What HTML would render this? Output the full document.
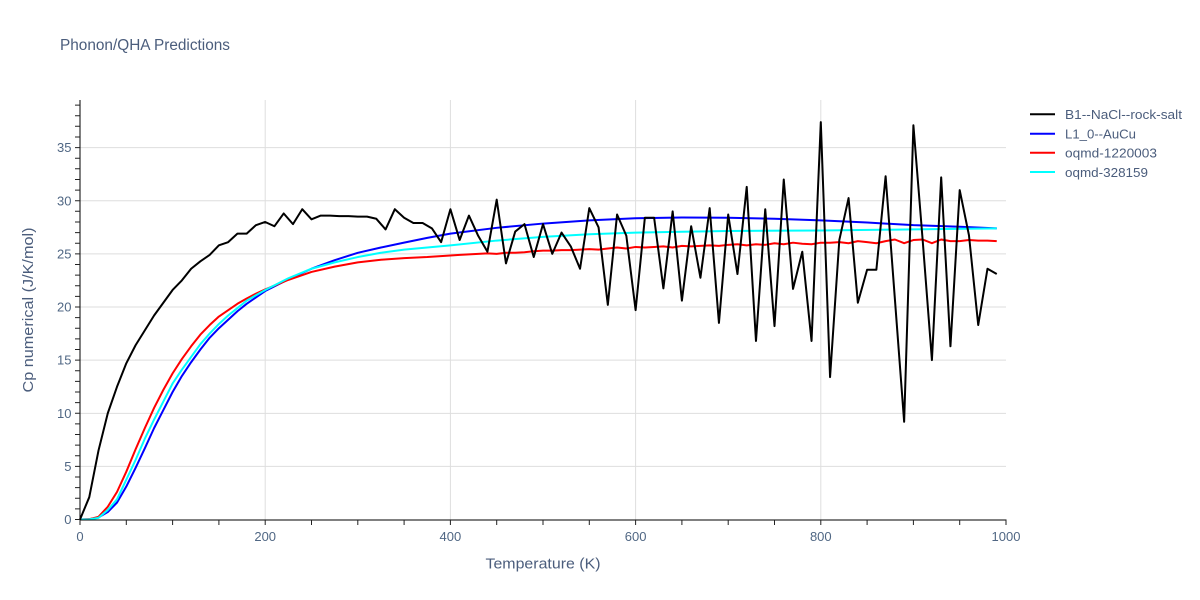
<!DOCTYPE html>
<html><head><meta charset="utf-8"><style>
html,body{margin:0;padding:0;background:#fff;}
svg{display:block;font-family:"Liberation Sans",sans-serif;}
</style></head><body>
<svg width="1200" height="600" viewBox="0 0 1200 600" xmlns="http://www.w3.org/2000/svg">
<rect width="1200" height="600" fill="#fff"/>
<text x="60" y="50" font-size="15.5" fill="#4b5d7c" textLength="170" lengthAdjust="spacingAndGlyphs">Phonon/QHA Predictions</text>
<!-- grid -->
<g stroke="#dedede" stroke-width="1">
<line x1="80" x2="1006" y1="466.4" y2="466.4"/>
<line x1="80" x2="1006" y1="413.4" y2="413.4"/>
<line x1="80" x2="1006" y1="360.1" y2="360.1"/>
<line x1="80" x2="1006" y1="307" y2="307"/>
<line x1="80" x2="1006" y1="253.9" y2="253.9"/>
<line x1="80" x2="1006" y1="200.7" y2="200.7"/>
<line x1="80" x2="1006" y1="147.6" y2="147.6"/>
<line x1="265.2" x2="265.2" y1="100" y2="520"/>
<line x1="450.4" x2="450.4" y1="100" y2="520"/>
<line x1="635.6" x2="635.6" y1="100" y2="520"/>
<line x1="820.8" x2="820.8" y1="100" y2="520"/>
</g>
<!-- series -->
<g transform="translate(80,519.5) scale(0.926,-10.626)" fill="none" stroke-linejoin="round">
<polyline vector-effect="non-scaling-stroke" stroke="#0000ff" stroke-width="2" points="0,0 10,0.02 20,0.2 30,0.7 40,1.6 50,3.1 60,4.85 70,6.7 80,8.6 90,10.3 100,12.0 110,13.5 120,14.8 130,16.0 140,17.1 150,18.0 160,18.8 170,19.6 180,20.3 190,20.9 200,21.5 225,22.6 250,23.6 275,24.4 300,25.1 325,25.6 350,26.06 375,26.5 400,26.9 450,27.45 500,27.85 550,28.15 600,28.35 650,28.42 700,28.4 750,28.3 800,28.15 850,27.95 900,27.7 950,27.55 990,27.4"/>
<polyline vector-effect="non-scaling-stroke" stroke="#ff0000" stroke-width="2" points="0,0 10,0.03 20,0.25 30,1.2 40,2.6 50,4.5 60,6.6 70,8.6 80,10.5 90,12.2 100,13.75 110,15.1 120,16.3 130,17.4 140,18.3 150,19.1 160,19.7 170,20.3 180,20.8 190,21.25 200,21.65 225,22.55 250,23.3 275,23.8 300,24.2 325,24.45 350,24.6 375,24.7 400,24.85 410,24.9 420,24.95 430,25.0 440,25.05 450,25.0 460,25.1 470,25.1 480,25.15 490,25.25 500,25.3 510,25.3 520,25.35 530,25.35 540,25.4 550,25.45 560,25.4 570,25.5 580,25.6 590,25.5 600,25.65 610,25.6 620,25.65 630,25.7 640,25.6 650,25.75 660,25.7 670,25.75 680,25.8 690,25.75 700,25.85 710,25.9 720,25.8 730,25.9 740,25.85 750,26.0 760,25.9 770,26.05 780,25.95 790,25.9 800,26.05 810,26.05 820,26.1 830,26.0 840,26.2 850,26.1 860,26.0 870,26.2 880,26.35 890,26.0 900,26.3 910,26.35 920,26.0 930,26.35 940,26.2 950,26.2 960,26.3 970,26.25 980,26.25 990,26.2"/>
<polyline vector-effect="non-scaling-stroke" stroke="#00ffff" stroke-width="2" points="0,0 10,0.01 20,0.15 30,0.9 40,1.9 50,3.75 60,5.6 70,7.6 80,9.4 90,11.1 100,12.8 110,14.1 120,15.3 130,16.5 140,17.5 150,18.4 160,19.2 170,19.9 180,20.6 190,21.1 200,21.6 225,22.7 250,23.6 275,24.2 300,24.7 325,25.1 350,25.4 375,25.6 400,25.8 450,26.25 500,26.6 550,26.85 600,27.0 650,27.08 700,27.15 800,27.2 900,27.3 990,27.4"/>
<polyline vector-effect="non-scaling-stroke" stroke="#000000" stroke-width="2" points="0,0 10,2.1 20,6.5 30,10.0 40,12.5 50,14.7 60,16.4 70,17.8 80,19.2 90,20.4 100,21.6 110,22.5 120,23.6 130,24.3 140,24.9 150,25.8 160,26.1 170,26.9 180,26.9 190,27.7 200,28.0 210,27.6 220,28.8 230,27.8 240,29.2 250,28.25 260,28.6 270,28.6 280,28.55 290,28.55 300,28.5 310,28.5 320,28.3 330,27.3 340,29.2 350,28.4 360,27.9 370,27.9 380,27.4 390,26.1 400,29.2 410,26.3 420,28.6 430,26.7 440,25.2 450,30.1 460,24.1 470,27.1 480,27.8 490,24.7 500,27.8 510,25.0 520,27.0 530,25.7 540,23.6 550,29.3 560,27.5 570,20.2 580,28.7 590,26.7 600,19.7 610,28.4 620,28.4 630,21.75 640,29.0 650,20.6 660,27.6 670,22.75 680,29.3 690,18.5 700,28.7 710,23.1 720,31.3 730,16.8 740,29.2 750,18.2 760,32.0 770,21.7 780,25.2 790,16.8 800,37.4 810,13.4 820,26.3 830,30.25 840,20.4 850,23.5 860,23.5 870,32.3 880,20.75 890,9.2 900,37.1 910,26.3 920,15.0 930,32.2 940,16.3 950,31.0 960,26.75 970,18.3 980,23.6 990,23.1"/>
</g>
<!-- axes -->
<g stroke="#000" stroke-width="1">
<line x1="80" x2="80" y1="100" y2="520"/>
<line x1="79.5" x2="1006.5" y1="520" y2="520"/>
</g>
<g stroke="#222" stroke-width="1">
<path d="M75,519.5h5M75,508.9h5M75,498.3h5M75,487.6h5M75,477h5M75,466.4h5M75,455.7h5M75,445.1h5M75,434.5h5M75,423.9h5M75,413.2h5M75,402.6h5M75,392h5M75,381.4h5M75,370.7h5M75,360.1h5M75,349.5h5M75,338.9h5M75,328.2h5M75,317.6h5M75,307h5M75,296.4h5M75,285.7h5M75,275.1h5M75,264.5h5M75,253.9h5M75,243.2h5M75,232.6h5M75,222h5M75,211.3h5M75,200.7h5M75,190.1h5M75,179.5h5M75,168.8h5M75,158.2h5M75,147.6h5M75,137h5M75,126.3h5M75,115.7h5M75,105.1h5"/>
<path d="M80,520v5M126.3,520v5M172.6,520v5M218.9,520v5M265.2,520v5M311.5,520v5M357.8,520v5M404.1,520v5M450.4,520v5M496.7,520v5M543,520v5M589.3,520v5M635.6,520v5M681.9,520v5M728.2,520v5M774.5,520v5M820.8,520v5M867.1,520v5M913.4,520v5M959.7,520v5M1006,520v5"/>
</g>
<!-- tick labels -->
<g font-size="13" fill="#506784" text-anchor="end">
<text x="71.5" y="524">0</text>
<text x="71.5" y="471">5</text>
<text x="71.5" y="418">10</text>
<text x="71.5" y="364.5">15</text>
<text x="71.5" y="311.5">20</text>
<text x="71.5" y="258.5">25</text>
<text x="71.5" y="205.5">30</text>
<text x="71.5" y="152">35</text>
</g>
<g font-size="13" fill="#506784" text-anchor="middle">
<text x="80" y="541">0</text>
<text x="265.2" y="541">200</text>
<text x="450.4" y="541">400</text>
<text x="635.6" y="541">600</text>
<text x="820.8" y="541">800</text>
<text x="1006" y="541">1000</text>
</g>
<text x="485.5" y="568.5" font-size="15" fill="#4b5d7c" textLength="115" lengthAdjust="spacingAndGlyphs">Temperature (K)</text>
<text transform="translate(33,392.5) rotate(-90)" font-size="15" fill="#4b5d7c" textLength="165" lengthAdjust="spacingAndGlyphs">Cp numerical (J/K/mol)</text>
<!-- legend -->
<g stroke-width="2">
<line x1="1030" x2="1055" y1="114.3" y2="114.3" stroke="#000"/>
<line x1="1030" x2="1055" y1="133.7" y2="133.7" stroke="#0000ff"/>
<line x1="1030" x2="1055" y1="152.8" y2="152.8" stroke="#ff0000"/>
<line x1="1030" x2="1055" y1="172" y2="172" stroke="#00ffff"/>
</g>
<g font-size="13" fill="#4b5d7c">
<text x="1065" y="119" textLength="117" lengthAdjust="spacingAndGlyphs">B1--NaCl--rock-salt</text>
<text x="1065" y="138.5" textLength="71" lengthAdjust="spacingAndGlyphs">L1_0--AuCu</text>
<text x="1065" y="157.5" textLength="92" lengthAdjust="spacingAndGlyphs">oqmd-1220003</text>
<text x="1065" y="177" textLength="83" lengthAdjust="spacingAndGlyphs">oqmd-328159</text>
</g>
</svg>
</body></html>
